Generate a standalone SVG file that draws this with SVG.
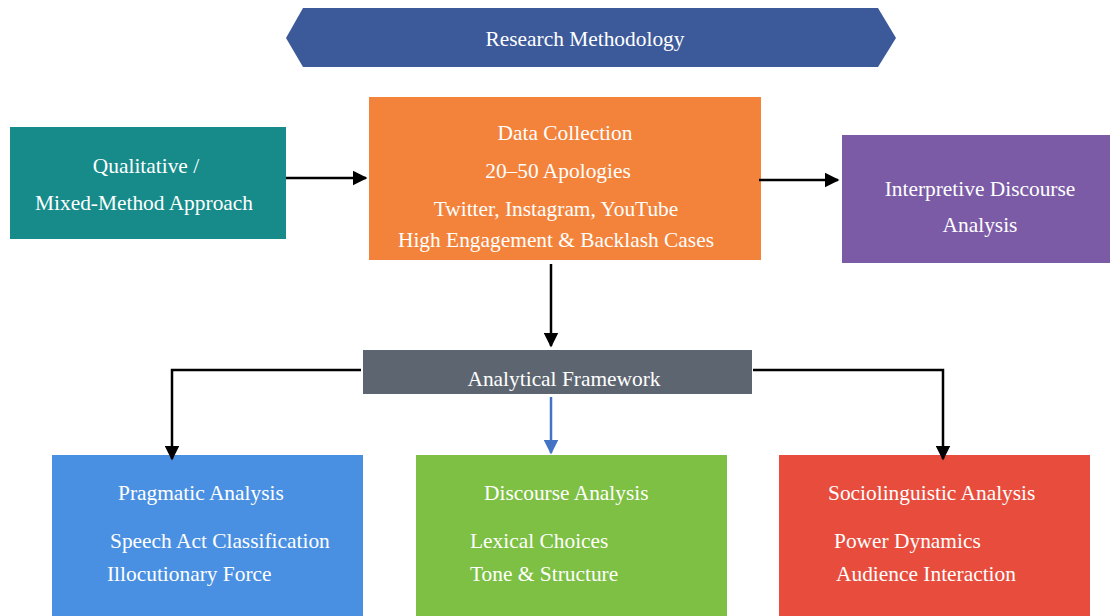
<svg xmlns="http://www.w3.org/2000/svg" width="1110" height="616" viewBox="0 0 1110 616">
<defs>
<style>
text{font-family:'Liberation Serif','Times New Roman',Times,serif;font-size:21.4px;fill:#ffffff}
.m{text-anchor:middle}
.c{fill:none;stroke:#000;stroke-width:2.5}
</style>
<marker id="ak" viewBox="0 0 10 10" refX="9" refY="5" markerWidth="6" markerHeight="6" orient="auto">
<path d="M0,0 L10,5 L0,10 z" fill="#000"/>
</marker>
<marker id="ab" viewBox="0 0 10 10" refX="9" refY="5" markerWidth="6" markerHeight="6" orient="auto">
<path d="M0,0 L10,5 L0,10 z" fill="#4472c4"/>
</marker>
</defs>
<rect width="1110" height="616" fill="#ffffff"/>
<g id="research-methodology">
<polygon points="286,38 303,8 878,8 896,38 878,67 303,67" fill="#3c5a9a"/>
<text class="m" x="585" y="46">Research Methodology</text>
</g>
<g id="qualitative">
<rect x="10" y="127" width="276" height="112" fill="#168b8a"/>
<text class="m" x="146" y="173">Qualitative /</text>
<text class="m" x="144" y="210">Mixed-Method Approach</text>
</g>
<g id="data-collection">
<rect x="369" y="97" width="392" height="163" fill="#f3833b"/>
<text class="m" x="565" y="140">Data Collection</text>
<text class="m" x="558" y="178">20–50 Apologies</text>
<text class="m" x="556" y="216">Twitter, Instagram, YouTube</text>
<text class="m" x="556" y="247">High Engagement &amp; Backlash Cases</text>
</g>
<g id="interpretive">
<rect x="842" y="135" width="268" height="128" fill="#7b5ba6"/>
<text class="m" x="980" y="196">Interpretive Discourse</text>
<text class="m" x="980" y="232">Analysis</text>
</g>
<g id="analytical-framework">
<rect x="363" y="350" width="389" height="44" fill="#5d6670"/>
<text class="m" x="564" y="386">Analytical Framework</text>
</g>
<g id="pragmatic">
<rect x="52" y="455" width="311" height="161" fill="#4a90e2"/>
<text x="118" y="500">Pragmatic Analysis</text>
<text x="110" y="548">Speech Act Classification</text>
<text x="107" y="581">Illocutionary Force</text>
</g>
<g id="discourse">
<rect x="416" y="455" width="311" height="161" fill="#7dc043"/>
<text x="484" y="500">Discourse Analysis</text>
<text x="470" y="548">Lexical Choices</text>
<text x="470" y="581">Tone &amp; Structure</text>
</g>
<g id="sociolinguistic">
<rect x="779" y="455" width="311" height="161" fill="#e74c3c"/>
<text x="828" y="500">Sociolinguistic Analysis</text>
<text x="834" y="548">Power Dynamics</text>
<text x="836" y="581">Audience Interaction</text>
</g>
<g id="connectors">
<path class="c" d="M286,178 L366,178" marker-end="url(#ak)"/>
<path class="c" d="M759,180 L838,180" marker-end="url(#ak)"/>
<path class="c" d="M551,264 L551,346" marker-end="url(#ak)"/>
<path class="c" d="M361,370 L172,370 L172,459" marker-end="url(#ak)"/>
<path class="c" d="M753,370 L943,370 L943,459" marker-end="url(#ak)"/>
<path fill="none" stroke="#4472c4" stroke-width="2.5" d="M551,397 L551,453" marker-end="url(#ab)"/>
</g>
</svg>
